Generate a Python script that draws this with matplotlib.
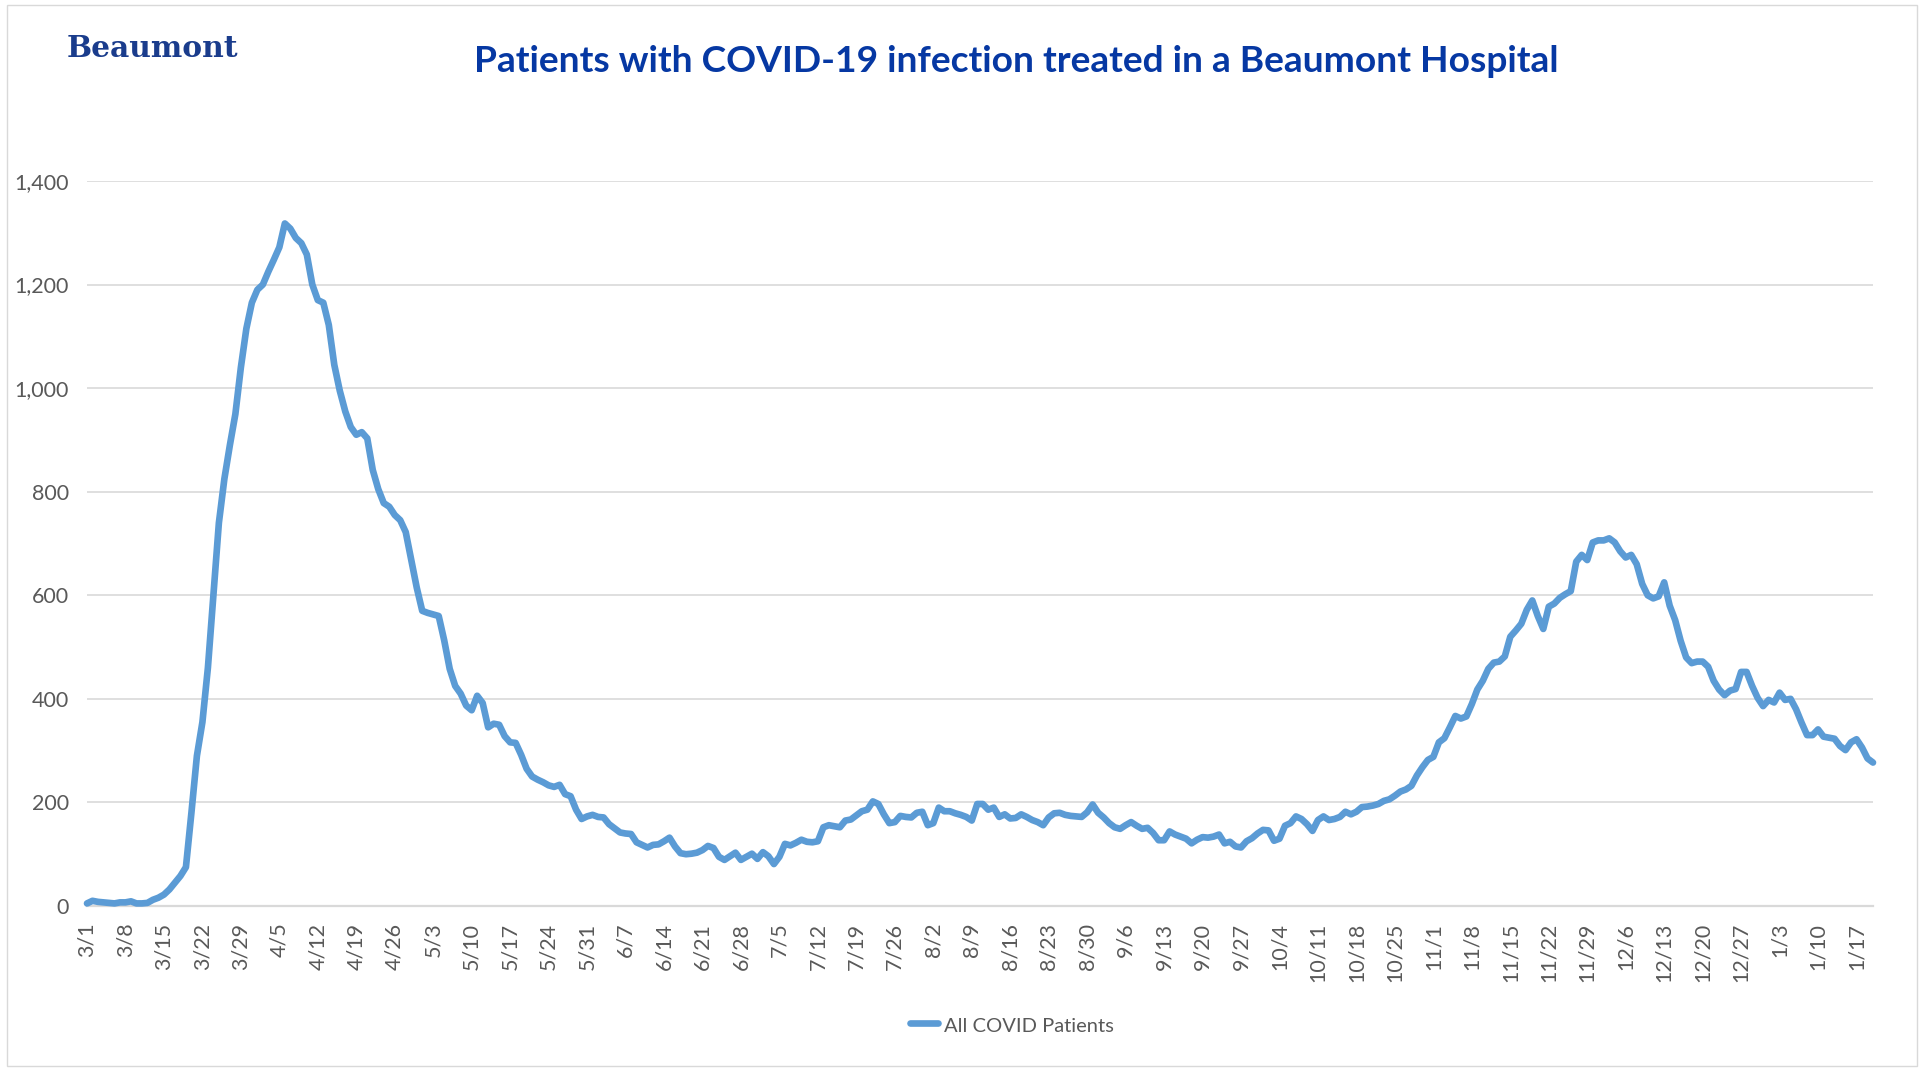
import matplotlib
matplotlib.use("Agg")
import matplotlib.pyplot as plt
from matplotlib.lines import Line2D
from matplotlib.patches import Rectangle

# daily census of COVID patients, 3/1/2020 .. 1/20/2021
mar = [5, 10, 8, 7, 6, 5, 7, 7, 9, 5, 5, 6, 12, 16, 22, 32, 45, 58, 75, 180,
       290, 355, 460, 600, 740, 825, 890, 950, 1040, 1115, 1165]
apr = [1190, 1200, 1225, 1248, 1272, 1318, 1308, 1290, 1280, 1258, 1200, 1170, 1165, 1122, 1045,
       995, 955, 925, 910, 915, 903, 842, 805, 778, 771, 755, 745, 722, 668, 615]
may = [570, 566, 563, 560, 513, 458, 425, 410, 387, 378, 406, 392, 345, 352, 350, 328,
       316, 315, 292, 265, 250, 244, 239, 233, 230, 234, 216, 212, 186, 168, 173]
jun = [176, 172, 171, 158, 150, 142, 140, 139, 123, 118, 113, 118, 119, 125, 132,
       115, 102, 100, 101, 103, 108, 116, 112, 95, 89, 96, 103, 89, 95, 101]
jul = [91, 104, 96, 81, 95, 120, 117, 122, 128, 124, 123, 125, 152, 156, 154, 152,
       165, 167, 175, 183, 186, 202, 197, 177, 160, 162, 174, 172, 171, 180, 182]
aug = [156, 160, 190, 183, 183, 179, 176, 172, 165, 197, 197, 186, 190, 172, 177, 169,
       170, 177, 172, 166, 162, 156, 171, 179, 180, 176, 174, 173, 172, 181, 196]
sep = [180, 171, 160, 152, 149, 156, 162, 155, 149, 151, 141, 127, 127, 144, 138,
       134, 130, 121, 128, 133, 132, 134, 138, 121, 124, 115, 113, 125, 131, 140]
oct_ = [147, 146, 126, 130, 155, 160, 173, 168, 158, 145, 166, 173, 166, 168, 172, 182,
        177, 182, 191, 192, 194, 197, 203, 206, 213, 221, 225, 232, 252, 268, 282]
nov = [288, 316, 324, 345, 367, 362, 366, 390, 418, 435, 458, 470, 472, 482, 520,
       532, 545, 572, 590, 560, 535, 578, 584, 595, 602, 608, 665, 678, 668, 702]
dec = [706, 706, 710, 702, 685, 673, 678, 660, 622, 600, 594, 598, 625, 580, 552, 512,
       480, 469, 472, 472, 462, 435, 418, 407, 416, 419, 452, 452, 425, 402, 386]
jan = [398, 393, 412, 398, 400, 380, 354, 330, 330, 341, 327, 325, 323, 309, 301,
       316, 322, 306, 285, 277]

week_labels = ["3/1", "3/8", "3/15", "3/22", "3/29", "4/5", "4/12", "4/19", "4/26",
               "5/3", "5/10", "5/17", "5/24", "5/31", "6/7", "6/14", "6/21", "6/28",
               "7/5", "7/12", "7/19", "7/26", "8/2", "8/9", "8/16", "8/23", "8/30",
               "9/6", "9/13", "9/20", "9/27", "10/4", "10/11", "10/18", "10/25",
               "11/1", "11/8", "11/15", "11/22", "11/29", "12/6", "12/13", "12/20",
               "12/27", "1/3", "1/10", "1/17"]
y_ticks = [0, 200, 400, 600, 800, 1000, 1200, 1400]

patients = mar + apr + may + jun + jul + aug + sep + oct_ + nov + dec + jan
days = list(range(len(patients)))

W, H = 1925, 1069
blue = "#5B9BD5"
grey = "#595959"
grid = "#D9D9D9"

fig = plt.figure(figsize=(W / 100, H / 100), dpi=100)
fig.patch.set_facecolor("white")

ax = fig.add_axes([87 / W, 1 - 906 / H, (1873 - 87) / W, (906 - 181) / H])
ax.plot(days, patients, color=blue, lw=4.8, solid_joinstyle="round",
        solid_capstyle="round", clip_on=False, zorder=3)

ax.set_xlim(0, len(patients) - 1)
ax.set_ylim(0, 1400)
ax.set_yticks(y_ticks)
ax.set_yticklabels([f"{v:,}" for v in y_ticks])
ax.set_xticks(range(0, 7 * len(week_labels), 7))
ax.set_xticklabels(week_labels, rotation=90)

ax.yaxis.grid(True, color=grid, lw=1.2)
ax.set_axisbelow(True)
for s in ["top", "right", "left"]:
    ax.spines[s].set_visible(False)
ax.spines["bottom"].set_color(grid)
ax.spines["bottom"].set_linewidth(1.6)
ax.tick_params(length=0, labelsize=15.5, labelcolor=grey)
ax.tick_params(axis="y", pad=13)
ax.tick_params(axis="x", pad=12)
for lab in ax.get_xticklabels() + ax.get_yticklabels():
    lab.set_fontfamily("Lato")

# header
fig.text(1016 / W, 1 - 71.7 / H, "Patients with COVID-19 infection treated in a Beaumont Hospital",
         ha="center", va="baseline", fontsize=26.7, fontweight="bold", color="#0638A3",
         family="Lato")
fig.text(67 / W, 1 - 56.7 / H, "Beaumont", ha="left", va="baseline", fontsize=21.4,
         fontweight="bold", color="#1A3C8C", family="DejaVu Serif")

# legend
fig.add_artist(Line2D([910 / W, 938 / W], [1 - 1023 / H] * 2, color=blue, lw=4.8,
                      solid_capstyle="round"))
fig.text(944 / W, 1 - 1031.7 / H, "All COVID Patients", ha="left", va="baseline",
         fontsize=14.5, color=grey, family="Lato")

# chart frame
fig.add_artist(Rectangle((7 / W, 3 / H), 1910 / W, 1061 / H, transform=fig.transFigure,
                         fill=False, edgecolor=grid, lw=1))

fig.savefig("out.png", dpi=100, facecolor="white")
